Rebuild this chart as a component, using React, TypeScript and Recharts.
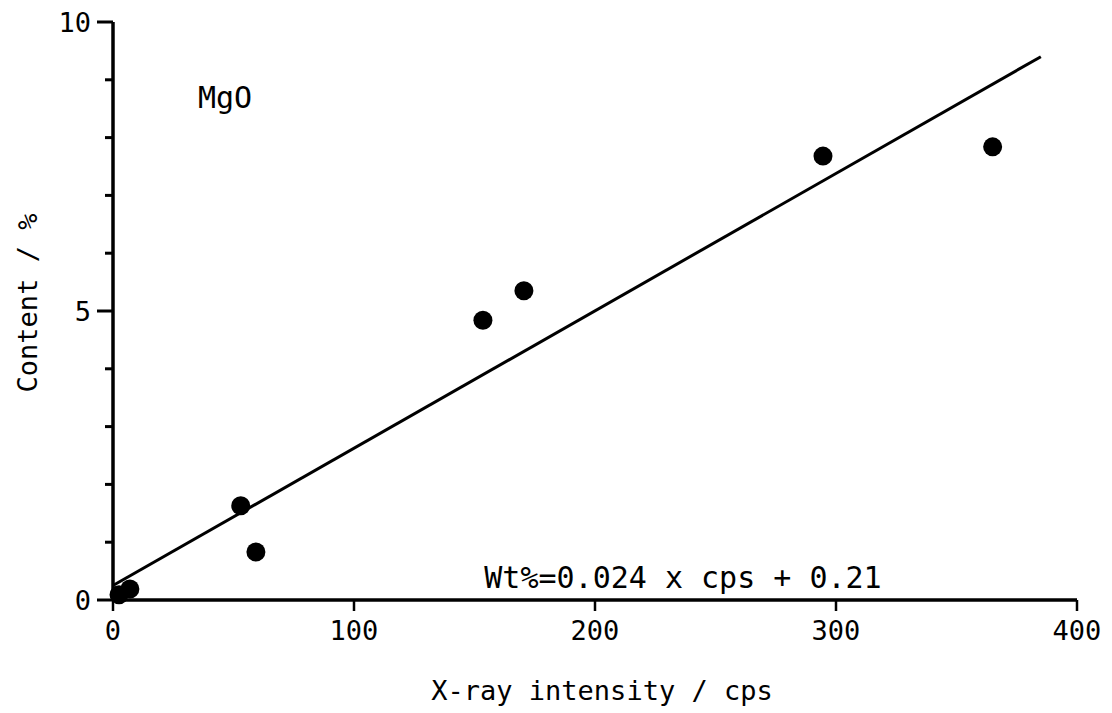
import React from 'react';
import { ScatterChart, Scatter, XAxis, YAxis, Customized } from 'recharts';

const cps = [2.5, 7, 53, 59.3, 153.5, 170.5, 294.6, 365];
const wt = [0.09, 0.19, 1.63, 0.83, 4.84, 5.35, 7.68, 7.84];
const fitX = [0, 385];
const fitY = [0.25, 9.4];
const xTicks = [0, 100, 200, 300, 400];
const yTicks = [0, 1, 2, 3, 4, 5, 6, 7, 8, 9, 10];
const yLabeled = [0, 5, 10];

const points = cps.map((c, i) => ({ x: c, y: wt[i] }));
const fit = fitX.map((c, i) => ({ x: c, y: fitY[i] }));

const FONT = '"DejaVu Sans Mono", monospace';

const YTick = (props: any) => {
  const { x, y, payload } = props;
  const major = yLabeled.includes(payload.value);
  const len = major ? 16 : 8;
  return (
    <g>
      <rect x={x - len} y={y - 1.5} width={len} height={3} fill="#000" stroke="none" />
      {major && (
        <text x={x - 22} y={y} textAnchor="end" dominantBaseline="central" fontSize={27} fontFamily={FONT} fill="#000" stroke="none">
          {payload.value}
        </text>
      )}
    </g>
  );
};

const Dot = (p: any) => <circle cx={p.cx} cy={p.cy} r={9.5} fill="#000" />;
const NoDot = () => <g />;

const Annotations = () => (
  <g fontFamily={FONT} fill="#000">
    <text x={225} y={97} textAnchor="middle" dominantBaseline="central" fontSize={30}>MgO</text>
    <text x={683} y={577} textAnchor="middle" dominantBaseline="central" fontSize={30}>Wt%=0.024 x cps + 0.21</text>
    <text x={602} y={690} textAnchor="middle" dominantBaseline="central" fontSize={27}>X-ray intensity / cps</text>
    <text x={27} y={303} textAnchor="middle" dominantBaseline="central" fontSize={27} transform="rotate(-90 27 303)">Content / %</text>
  </g>
);

export default function App() {
  return (
    <div style={{ position: 'absolute', left: 0, top: 0, background: '#fff' }}>
      <ScatterChart width={1112} height={713} margin={{ top: 22, right: 35, bottom: 0, left: 0 }}>
        <XAxis
          type="number"
          dataKey="x"
          domain={[0, 400]}
          ticks={xTicks}
          interval={0}
          height={113}
          axisLine={{ stroke: '#000', strokeWidth: 3.5 }}
          tickLine={{ stroke: '#000', strokeWidth: 2.5 }}
          tickSize={11}
          tickMargin={10}
          tick={{ fill: '#000', fontSize: 27, fontFamily: FONT }}
        />
        <YAxis
          type="number"
          dataKey="y"
          domain={[0, 10]}
          ticks={yTicks}
          interval={0}
          width={113}
          axisLine={{ stroke: '#000', strokeWidth: 3.5 }}
          tickLine={false}
          tickSize={0}
          tickMargin={0}
          tick={<YTick />}
        />
        <Scatter data={fit} line={{ stroke: '#000', strokeWidth: 3 }} shape={<NoDot />} isAnimationActive={false} legendType="none" />
        <Scatter data={points} shape={<Dot />} isAnimationActive={false} />
        <Customized component={Annotations} />
      </ScatterChart>
    </div>
  );
}
